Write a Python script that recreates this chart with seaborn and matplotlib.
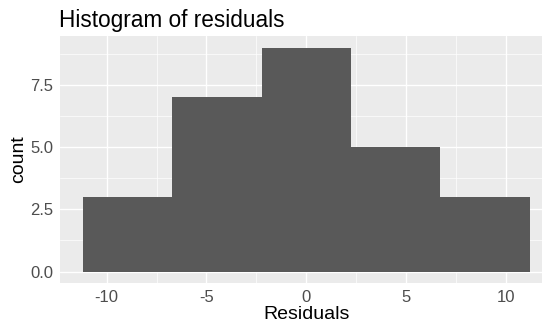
import numpy as np
import pandas as pd
import matplotlib
matplotlib.use("Agg")
import matplotlib.pyplot as plt
import seaborn as sns
from matplotlib.ticker import MultipleLocator

# Data
bin_edges = [-11.2, -6.72, -2.24, 2.24, 6.72, 11.2]
counts = [3, 7, 9, 5, 3]
x_ticks = [-10, -5, 0, 5, 10]
x_tick_labels = ["-10", "-5", "0", "5", "10"]
y_ticks = [0.0, 2.5, 5.0, 7.5]
y_tick_labels = ["0.0", "2.5", "5.0", "7.5"]

centers = [(a + b) / 2 for a, b in zip(bin_edges[:-1], bin_edges[1:])]
df = pd.DataFrame({"Residuals": centers, "count": counts})

sns.set_style("white")
plt.rcParams["font.family"] = ["Liberation Sans", "DejaVu Sans"]

W, H = 542, 327
fig = plt.figure(figsize=(W / 100, H / 100), dpi=100)
left, right, top, bottom = 60.4, 552.0, 36.4, 282.7
ax = fig.add_axes([left / W, (H - bottom) / H, (right - left) / W, (bottom - top) / H])

ax.set_facecolor("#EBEBEB")
sns.histplot(data=df, x="Residuals", weights="count", bins=bin_edges,
             color="#595959", alpha=1, edgecolor="none", linewidth=0, ax=ax, zorder=3)

span = bin_edges[-1] - bin_edges[0]
ax.set_xlim(bin_edges[0] - 0.05 * span, bin_edges[-1] + 0.05 * span)
ymax = max(counts)
ax.set_ylim(-0.05 * ymax, ymax * 1.05)

ax.set_xticks(x_ticks)
ax.set_xticklabels(x_tick_labels)
ax.set_yticks(y_ticks)
ax.set_yticklabels(y_tick_labels)
ax.xaxis.set_minor_locator(MultipleLocator(2.5))
ax.yaxis.set_minor_locator(MultipleLocator(1.25))

ax.grid(which="major", color="white", linewidth=1.0, zorder=1)
ax.grid(which="minor", color="white", linewidth=0.5, zorder=1)
ax.set_axisbelow(True)
for s in ax.spines.values():
    s.set_visible(False)

ax.tick_params(axis="both", which="major", length=3, width=0.8, color="#333333",
               labelcolor="#4D4D4D", labelsize=12, pad=2)
ax.tick_params(axis="both", which="minor", length=0)

ax.set_xlabel("Residuals", fontsize=14, color="black", labelpad=1)
ax.set_ylabel("count", fontsize=14, color="black", labelpad=2)
fig.text(left / W - 0.003, 1 - 27 / H, "Histogram of residuals", fontsize=16.3,
         color="black", ha="left", va="baseline")

fig.savefig("out.png", dpi=100)
